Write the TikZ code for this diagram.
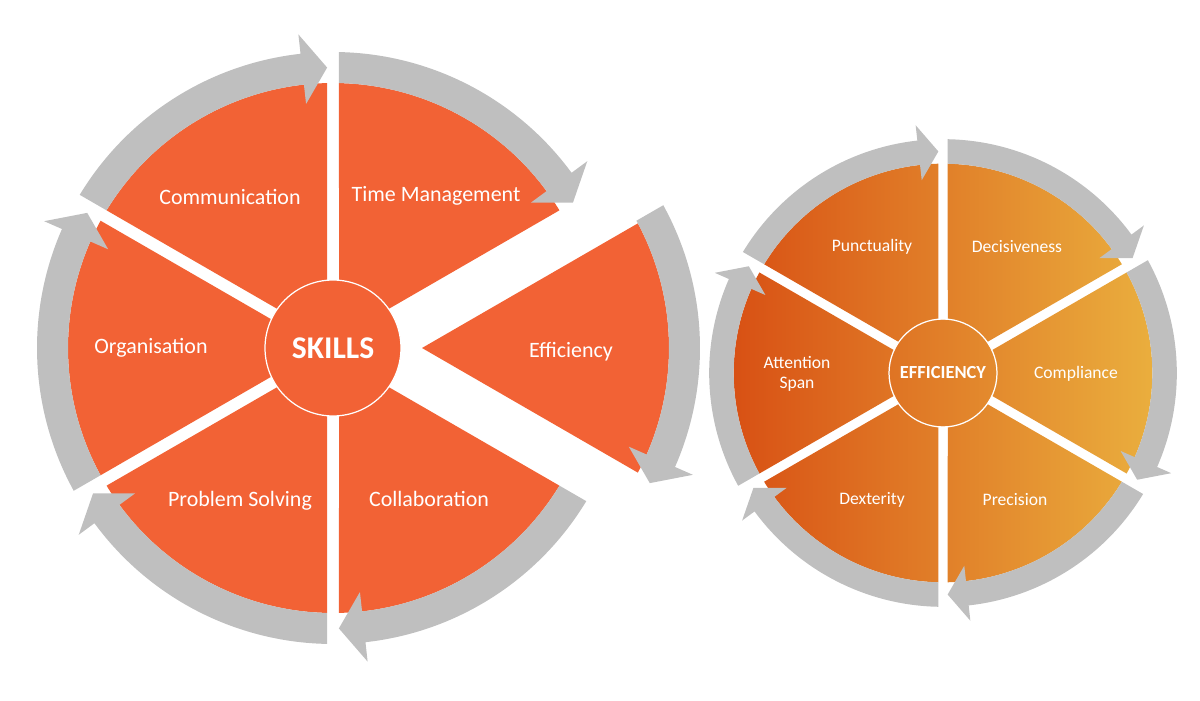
\documentclass[tikz,border=0pt]{standalone}
\usepackage{fontspec}
\setmainfont{Carlito}
\usetikzlibrary{positioning,calc}

\definecolor{skillorange}{RGB}{242,98,53}
\definecolor{ringgray}{RGB}{191,191,191}
\definecolor{effdark}{RGB}{216,80,20}
\definecolor{efflight}{RGB}{234,175,62}

% one segment of a cycle: centre angle #1, half gap #2
\newcommand{\cyclewedge}[2]{({#1}:{2*#2}) -- ({#1-30+asin(#2/265)}:265)
    arc[start angle={#1-30+asin(#2/265)}, end angle={#1+30-asin(#2/265)}, radius=265] -- cycle}
% grey arc arrow round the segment at angle #1 (clockwise)
\newcommand{\cyclearrow}[1]{({#1+30-asin(6/296)}:296)
    arc[start angle={#1+30-asin(6/296)}, end angle={#1-23.7}, radius=296]
    -- ({#1-23.7}:315.5) -- ({#1-28.8}:280.5) -- ({#1-23.7}:245.5) -- ({#1-23.7}:265)
    arc[start angle={#1-23.7}, end angle={#1+30-asin(6/265)}, radius=265] -- cycle}

\begin{document}
\begin{tikzpicture}[x=0.02cm, y=0.02cm]
        \tikzset{
            wedge/.style={fill=skillorange},
            ring/.style={fill=ringgray},
            hub/.style={circle, draw=white, line width=0.7pt, inner sep=0pt, text=white},
            segtext/.style={text=white, align=center, font=\fontsize{12.5}{14}\selectfont},
            smalltext/.style={text=white, align=center, font=\fontsize{10}{11.5}\selectfont},
        }
        \useasboundingbox (0,0) rectangle (1200,700);

        % skills cycle
        \begin{scope}[shift={(333,352)}]
            \fill[wedge] \cyclewedge{60}{6};
            \fill[wedge] \cyclewedge{120}{6};
            \fill[wedge] \cyclewedge{180}{6};
            \fill[wedge] \cyclewedge{240}{6};
            \fill[wedge] \cyclewedge{300}{6};
            \fill[ring] \cyclearrow{60};
            \fill[ring] \cyclearrow{120};
            \fill[ring] \cyclearrow{180};
            \fill[ring] \cyclearrow{240};
            \fill[ring] \cyclearrow{300};
            \begin{scope}[shift={(71,0)}]
                \fill[wedge] \cyclewedge{0}{9};
                \fill[ring] \cyclearrow{0};
            \end{scope}
            \node[hub, fill=skillorange, minimum size=2.72cm,
                font=\fontsize{18}{20}\selectfont\bfseries] (skills) at (0,0) {SKILLS};
        \end{scope}

        % efficiency cycle
        \begin{scope}[shift={(943,327)}, scale=0.79]
            \begin{scope}
                \clip \cyclewedge{0}{6} \cyclewedge{60}{6} \cyclewedge{120}{6}
                    \cyclewedge{180}{6} \cyclewedge{240}{6} \cyclewedge{300}{6};
                \shade[left color=effdark, right color=efflight] (-270,-270) rectangle (270,270);
            \end{scope}
            \begin{scope}
                \clip (0,0) circle[radius=68];
                \shade[left color=effdark, right color=efflight] (-270,-270) rectangle (270,270);
            \end{scope}
            \fill[ring] \cyclearrow{0};
            \fill[ring] \cyclearrow{60};
            \fill[ring] \cyclearrow{120};
            \fill[ring] \cyclearrow{180};
            \fill[ring] \cyclearrow{240};
            \fill[ring] \cyclearrow{300};
            \node[hub, minimum size=2.16cm,
                font=\fontsize{10.5}{12}\selectfont\bfseries] (efficiency) at (0,0) {EFFICIENCY};
        \end{scope}

        \node[segtext] (communication) at (230,503) {Communication};
        \node[segtext] (timemgmt) at (436,504) {Time Management};
        \node[segtext] (effseg) at (571,348) {Efficiency};
        \node[segtext] (organisation) at (151,352) {Organisation};
        \node[segtext] (problem) at (240,199) {Problem Solving};
        \node[segtext] (collaboration) at (429,201) {Collaboration};

        \node[smalltext] (punctuality) at (872,453) {Punctuality};
        \node[smalltext] (decisiveness) at (1017,453) {Decisiveness};
        \node[smalltext] (attention) at (797,326) {Attention\\Span};
        \node[smalltext] (compliance) at (1076,326) {Compliance};
        \node[smalltext] (dexterity) at (872,200) {Dexterity};
        \node[smalltext] (precision) at (1015,200) {Precision};
    \end{tikzpicture}
\end{document}
